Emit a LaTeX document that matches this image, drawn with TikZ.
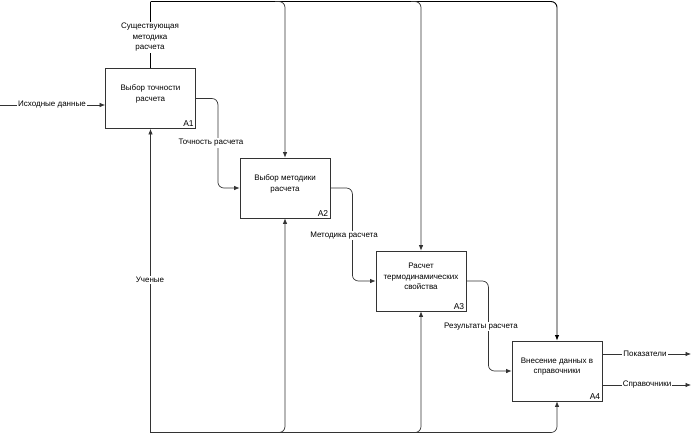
\documentclass[tikz,border=0pt]{standalone}
\usepackage{fontspec}
\setmainfont{Liberation Sans}
\usetikzlibrary{arrows.meta,calc}
\begin{document}
\begin{tikzpicture}[x=1pt,y=-1pt,
  conn/.style={draw=black!80,line width=0.7pt},
  arr/.style={conn,-{Latex[length=5.5pt,width=4.5pt]}},
  blk/.style={draw=black!80,line width=0.8pt,rectangle,minimum width=90pt,minimum height=60pt,inner sep=0pt},
  txt/.style={font=\fontsize{8}{10.5}\selectfont,align=center,inner sep=1pt},
  lbl/.style={txt,fill=white},
  num/.style={font=\fontsize{8.5}{10}\selectfont,inner sep=2pt,anchor=south east}]
\useasboundingbox (0,0) rectangle (692,434);
% boxes
\node[blk] (b1) at (150.5,98.5) {};
\node[blk] (b2) at (285,188) {};
\node[blk] (b3) at (421,281) {};
\node[blk] (b4) at (557,371) {};
\node[txt] (t1) at ($(b1.center)+(0,-4.5)$) {Выбор точности\\расчета};
\node[txt] (t2) at ($(b2.center)+(0,-4)$) {Выбор методики\\расчета};
\node[txt] (t3) at ($(b3.center)+(0,-4.5)$) {Расчет\\термодинамических\\свойства};
\node[txt] (t4) at ($(b4.center)+(0,-4.5)$) {Внесение данных в\\справочники};
\node[num] (n1) at (b1.south east) {A1};
\node[num] (n2) at (b2.south east) {A2};
\node[num] (n3) at (b3.south east) {A3};
\node[num] (n4) at (b4.south east) {A4};
% reference coordinates
\coordinate (ctop) at (0,1.5);
\coordinate (cbot) at (0,432.5);
\coordinate (in1) at (0,105);
\coordinate (o1) at (691,354);
\coordinate (o2) at (691,385);
% input
\draw[arr] (in1) -- (b1.west |- in1);
% top controls
\draw[conn,line width=0.9pt,black] (b1.north) -- (ctop -| b1.north);
\draw[arr,line width=0.9pt,draw=black,rounded corners=6] (ctop -| b1.north) -| (b4.north);
\draw[arr,rounded corners=6] ($(ctop -| b2.north)+(-10,0)$) -| (b2.north);
\draw[arr,rounded corners=6] ($(ctop -| b3.north)+(-10,0)$) -| (b3.north);
% bottom mechanisms
\draw[arr] (cbot -| b1.south) -- (b1.south);
\draw[arr,rounded corners=6] (cbot -| b1.south) -| (b4.south);
\draw[arr,rounded corners=6] ($(cbot -| b2.south)+(-10,0)$) -| (b2.south);
\draw[arr,rounded corners=6] ($(cbot -| b3.south)+(-10,0)$) -| (b3.south);
% flows between boxes
\draw[arr,rounded corners=6] (b1.east) -- ++(22,0) |- (b2.west);
\draw[arr,rounded corners=6] (b2.east) -- ++(22,0) |- (b3.west);
\draw[arr,rounded corners=6] (b3.east) -- ++(22,0) |- (b4.west);
% outputs
\draw[arr] (b4.east |- o1) -- (o1);
\draw[arr] (b4.east |- o2) -- (o2);
% labels
\node[lbl] (l1) at (150,37.5) {Существующая\\методика\\расчета};
\node[lbl] (l2) at (52,105) {Исходные данные};
\node[lbl] (l3) at (211,143) {Точность расчета};
\node[lbl] (l4) at (344,235.5) {Методика расчета};
\node[lbl] (l5) at (481,326.5) {Результаты расчета};
\node[lbl] (l6) at (150,280) {Ученые};
\node[lbl] (l7) at (645,354) {Показатели};
\node[lbl] (l8) at (647,385) {Справочники};
\end{tikzpicture}
\end{document}
